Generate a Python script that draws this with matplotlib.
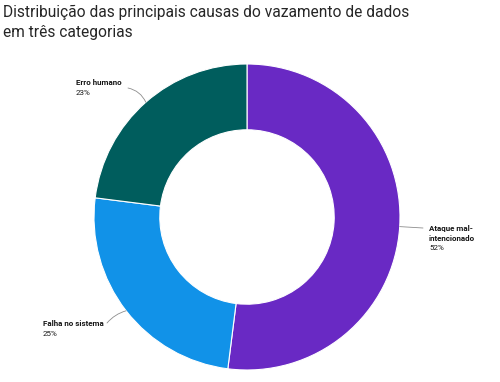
import matplotlib
matplotlib.use("Agg")
import matplotlib.pyplot as plt
import numpy as np

title_lines = ["Distribuição das principais causas do vazamento de dados", "em três categorias"]
categories = ["Ataque mal-\nintencionado", "Falha no sistema", "Erro humano"]
values = [52, 25, 23]
colors = ["#6929c4", "#1192e8", "#005d5d"]

W, H = 500, 382
fig = plt.figure(figsize=(W / 100, H / 100), dpi=100)

def fx(px):
    return px / W

def fy(py):
    return 1 - py / H

# donut axes: center (247,217), radius 153 px
cx, cy, R = 247, 217, 153
ax = fig.add_axes([fx(cx - R), fy(cy + R), 2 * R / W, 2 * R / H])
wedges, _ = ax.pie(values, colors=colors, startangle=90, counterclock=False,
                   radius=1.0, wedgeprops=dict(width=0.43, edgecolor="white", linewidth=0.8))
ax.set_xlim(-1, 1)
ax.set_ylim(-1, 1)
ax.set_aspect("equal")
ax.axis("off")

for i, line in enumerate(title_lines):
    fig.text(fx(3), fy(17 + 20 * i), line, fontsize=11.2, family=["Roboto", "DejaVu Sans"],
             color="#262626", va="baseline", ha="left")

# label positions (px): text start x, first baseline y, line anchor (px)
label_pos = {
    0: dict(x=429, y=231, anchor=(423, 228), rad=0.0),
    1: dict(x=43, y=326, anchor=(107, 323), rad=-0.15),
    2: dict(x=76, y=85, anchor=(128, 88), rad=-0.25),
}
lh = 9.5
for i, (cat, val) in enumerate(zip(categories, values)):
    p = label_pos[i]
    lines = cat.split("\n")
    for j, l in enumerate(lines):
        fig.text(fx(p["x"]), fy(p["y"] + lh * j), l, fontsize=5.8, fontweight="bold",
                 family=["Roboto", "DejaVu Sans"], color="#161616", va="baseline", ha="left")
    fig.text(fx(p["x"]), fy(p["y"] + lh * len(lines) + 0.5), f"{val}%", fontsize=5.8,
             family=["Roboto", "DejaVu Sans"], color="#161616", va="baseline", ha="left")
    # leader line to mid-angle of wedge
    start = 90 - sum(values[:i]) * 3.6
    mid = np.deg2rad(start - val * 3.6 / 2)
    xy = (np.cos(mid), np.sin(mid))
    ax.annotate("", xy=xy, xycoords="data",
                xytext=(fx(p["anchor"][0]), fy(p["anchor"][1])), textcoords="figure fraction",
                arrowprops=dict(arrowstyle="-", color="#8d8d8d", lw=0.6,
                                connectionstyle=f"arc3,rad={p['rad']}",
                                shrinkA=0, shrinkB=0),
                annotation_clip=False)

fig.savefig("out.png", dpi=100)
